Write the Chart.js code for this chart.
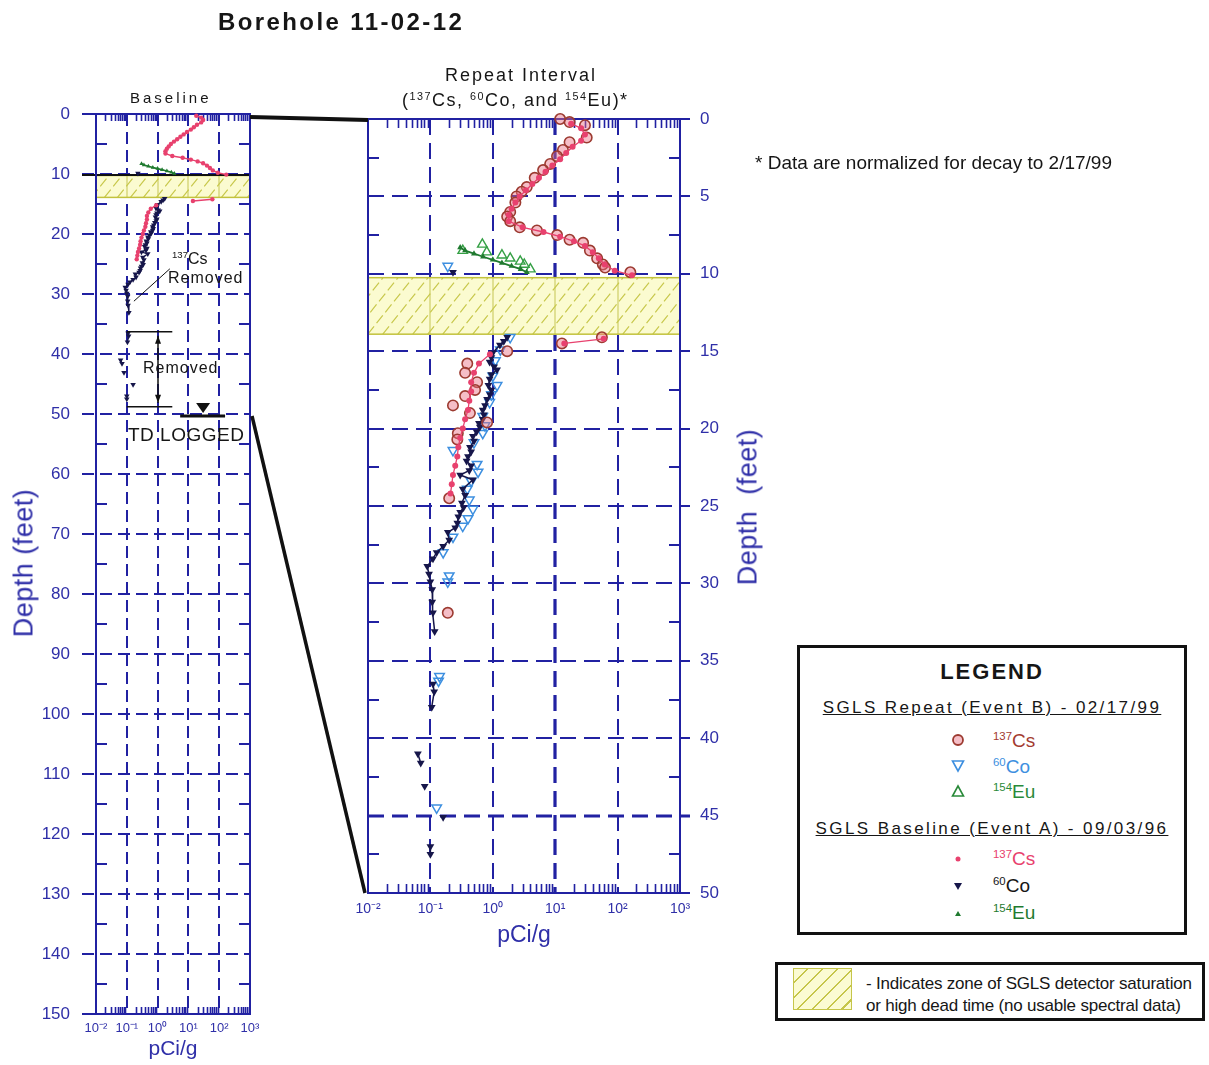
<!DOCTYPE html>
<html><head><meta charset="utf-8">
<script src="https://cdn.jsdelivr.net/npm/chart.js@4.4.1/dist/chart.umd.min.js"></script>
<style>
html,body{margin:0;padding:0;background:#fff;}
body{width:1209px;height:1065px;position:relative;overflow:hidden;font-family:"Liberation Sans",Arial,sans-serif;}
canvas{position:absolute;left:0;top:0;z-index:0;}
.t{position:absolute;white-space:nowrap;color:#161616;line-height:1;z-index:2;}
.rot{transform:translate(-50%,-50%) rotate(-90deg);}
sup{font-size:0.6em;vertical-align:0.6em;line-height:0;}
#legend{position:absolute;left:797px;top:645px;width:390px;height:290px;box-sizing:border-box;border:3px solid #111;z-index:2;background:#fff;}
#legend .t{position:absolute;}
#zone{position:absolute;left:775px;top:962px;width:430px;height:59px;box-sizing:border-box;border:3px solid #111;z-index:2;overflow:hidden;background:#fff;}
.swatch{position:absolute;box-sizing:border-box;border:1.5px solid #c6c64a;background-color:#fbfbd2;background-image:repeating-linear-gradient(135deg,transparent 0 9px,#c6c64a 9px 10.5px);}
.sym{position:absolute;}
</style></head><body>
<canvas id="baseline" width="1209" height="1065"></canvas>
<canvas id="repeat" width="1209" height="1065"></canvas>

<div class="t" style="left:218px;top:10px;font-size:24px;font-weight:bold;letter-spacing:2.4px;">Borehole 11-02-12</div>
<div class="t" style="left:130px;top:90px;font-size:15px;letter-spacing:3px;">Baseline</div>
<div class="t" style="left:445px;top:66px;font-size:18px;letter-spacing:2px;">Repeat Interval</div>
<div class="t" style="left:402px;top:91px;font-size:18px;letter-spacing:1.5px;">(<sup>137</sup>Cs, <sup>60</sup>Co, and <sup>154</sup>Eu)*</div>
<div class="t" style="left:755px;top:153px;font-size:19px;">* Data are normalized for decay to 2/17/99</div>
<div class="t rot" style="left:24px;top:563px;font-size:27px;color:#2f2fa8;letter-spacing:0.5px;">Depth (feet)</div>
<div class="t rot" style="left:748px;top:507px;font-size:27px;color:#2f2fa8;letter-spacing:0.5px;">Depth&nbsp; (feet)</div>

<div class="t" style="left:172px;top:251px;font-size:16px;"><sup>137</sup>Cs</div>
<div class="t" style="left:168px;top:270px;font-size:16px;letter-spacing:1px;">Removed</div>
<div class="t" style="left:143px;top:360px;font-size:16px;letter-spacing:1px;">Removed</div>
<div class="t" style="left:128px;top:425px;font-size:19px;letter-spacing:0.5px;">TD LOGGED</div>

<div id="legend">
  <div class="t" style="left:0;width:384px;text-align:center;top:13px;font-size:22px;font-weight:bold;letter-spacing:2px;">LEGEND</div>
  <div class="t" style="left:0;width:384px;text-align:center;top:51px;font-size:17px;letter-spacing:2.4px;text-decoration:underline;">SGLS Repeat (Event B) - 02/17/99</div>
  <svg class="sym" style="left:151px;top:85px" width="14" height="14"><circle cx="7" cy="7" r="5" fill="rgba(232,110,130,0.45)" stroke="#9c3a30" stroke-width="1.8"/></svg>
  <div class="t" style="left:193px;top:83px;font-size:19px;color:#a33a30;"><sup>137</sup>Cs</div>
  <svg class="sym" style="left:151px;top:111px" width="14" height="14"><polygon points="1.5,2 12.5,2 7,12" fill="none" stroke="#3d8fe0" stroke-width="1.6"/></svg>
  <div class="t" style="left:193px;top:109px;font-size:19px;color:#3d8fe0;"><sup>60</sup>Co</div>
  <svg class="sym" style="left:151px;top:136px" width="14" height="14"><polygon points="1.5,12 12.5,12 7,2" fill="none" stroke="#2a8a3a" stroke-width="1.6"/></svg>
  <div class="t" style="left:193px;top:134px;font-size:19px;color:#2a8a3a;"><sup>154</sup>Eu</div>
  <div class="t" style="left:0;width:384px;text-align:center;top:172px;font-size:17px;letter-spacing:2.4px;text-decoration:underline;">SGLS Baseline (Event A) - 09/03/96</div>
  <svg class="sym" style="left:152px;top:205px" width="12" height="12"><circle cx="6" cy="6" r="2.5" fill="#e8416e"/></svg>
  <div class="t" style="left:193px;top:201px;font-size:19px;color:#e8416e;"><sup>137</sup>Cs</div>
  <svg class="sym" style="left:152px;top:232px" width="12" height="12"><polygon points="2,3 10,3 6,10" fill="#16164a"/></svg>
  <div class="t" style="left:193px;top:228px;font-size:19px;color:#161616;"><sup>60</sup>Co</div>
  <svg class="sym" style="left:152px;top:259px" width="12" height="12"><polygon points="3,9 9,9 6,4" fill="#1f7a2f"/></svg>
  <div class="t" style="left:193px;top:255px;font-size:19px;color:#1f7a2f;"><sup>154</sup>Eu</div>
</div>

<div id="zone">
  <div class="swatch" style="left:15px;top:3px;width:59px;height:42px;"></div>
  <div class="t" style="left:88px;top:10px;font-size:17px;letter-spacing:-0.2px;">- Indicates zone of SGLS detector saturation</div>
  <div class="t" style="left:88px;top:32px;font-size:17px;letter-spacing:-0.2px;">or high dead time (no usable spectral data)</div>
</div>

<script>
const BLUE = '#2121a2';
const TXT_BLUE = '#2f2fa8';

// ---- axes ----
const xTickValues = [0.01, 0.1, 1, 10, 100, 1000];
const xTickLabels = ['10⁻²', '10⁻¹', '10⁰', '10¹', '10²', '10³'];
const baselineDepthRange = [0, 150];
const baselineDepthStep = 10;
const repeatDepthRange = [0, 50];
const repeatDepthStep = 5;

// ---- annotations (depths in feet) ----
const saturationZone = [10.25, 13.9];
const tdDepth = 50;
const csRemovedInterval = [36.3, 48.8];

// ---- SGLS Baseline (Event A) 09/03/96, pCi/g ----
const csBaseDepth = [0.3, 0.6, 1.0, 1.4, 1.8, 2.2, 2.6, 3.0, 3.4, 3.8, 4.2, 4.6, 5.0, 5.4, 5.8, 6.2, 6.6, 7.0, 7.3, 7.6, 7.9, 8.2, 8.6, 9.0, 9.4, 9.8, 10.1, 12.0, 14.2, 14.5, 14.9, 15.2, 15.8, 16.4, 17.0, 17.6, 18.2, 18.8, 19.4, 20.0, 20.6, 21.2, 21.8, 22.4, 23.0, 23.6, 24.2];
const csBase = [18, 26, 30, 26, 19, 15, 12, 9.0, 7.0, 5.5, 4.3, 3.4, 2.7, 2.3, 2.0, 1.8, 1.8, 3.0, 6.5, 12, 20, 30, 40, 50, 62, 90, 170, null, 60, 14, null, 0.9, 0.6, 0.5, 0.45, 0.45, 0.42, 0.40, 0.36, 0.33, 0.30, 0.28, 0.27, 0.25, 0.23, 0.22, 0.21];

const coBaseDepth = [9.9, 14.1, 14.35, 14.6, 15.1, 15.4, 15.7, 16.0, 16.2, 16.5, 16.8, 17.2, 17.5, 17.8, 18.1, 18.5, 18.8, 19.1, 19.4, 19.65, 19.9, 20.2, 20.5, 20.8, 21.2, 21.5, 21.8, 22.1, 22.4, 22.7, 23.0, 23.3, 23.9, 24.3, 24.8, 25.1, 25.4, 25.7, 26.1, 26.4, 26.7, 27.2, 27.6, 28.0, 28.4, 28.9, 29.4, 29.9, 30.4, 31.2, 31.9, 33.1, 36.5, 37.0, 38.0, 41.0, 41.6, 43.1, 45.1, 47.0, 47.5];
const coBase = [0.23, 1.7, 1.5, 1.3, 1.0, 0.95, 0.89, 1.05, 1.17, 0.95, 0.89, 0.85, 0.95, 0.9, 0.81, 0.75, 0.69, 0.72, 0.69, 0.6, 0.62, 0.55, 0.48, 0.5, 0.43, 0.45, 0.40, 0.38, 0.45, 0.42, 0.30, 0.48, 0.33, 0.36, 0.32, 0.34, 0.30, 0.28, 0.27, 0.25, 0.19, 0.20, 0.16, 0.126, 0.11, 0.089, 0.095, 0.10, 0.107, 0.107, 0.11, 0.117, 0.11, 0.115, 0.105, 0.063, 0.07, 0.081, 0.16, 0.10, 0.10];

const euBaseDepth = [8.3, 8.5, 8.7, 8.9, 9.1, 9.3, 9.5, 9.7, 9.9];
const euBase = [0.30, 0.36, 0.5, 0.7, 1.0, 1.4, 2.0, 2.8, 3.5];

// ---- SGLS Repeat (Event B) 02/17/99, pCi/g ----
const csRepDepth = [0.0, 0.2, 0.4, 1.2, 1.5, 2.0, 2.4, 2.9, 3.3, 3.8, 4.4, 4.7, 5.0, 5.4, 6.0, 6.3, 6.6, 7.0, 7.2, 7.5, 7.8, 8.0, 8.5, 9.0, 9.4, 9.6, 9.9, 14.1, 14.5, 15.0, 15.8, 16.4, 17.0, 17.5, 17.9, 18.5, 19.0, 19.6, 20.3, 20.7, 24.5, 31.9];
const csRep = [12, 17, 30, 32, 17, 13.3, 10.7, 8.3, 6.4, 4.7, 3.5, 2.9, 2.4, 2.3, 1.9, 1.7, 1.9, 2.7, 5.1, 10.7, 17, 28, 36, 47, 58, 63, 160, 56, 12.8, 1.7, 0.39, 0.36, 0.56, 0.52, 0.36, 0.23, 0.43, 0.81, 0.275, 0.27, 0.20, 0.19];

const coRepDepth = [9.5, 14.1, 14.9, 15.6, 16.6, 17.2, 17.8, 18.3, 19.2, 19.8, 20.3, 20.9, 21.4, 22.3, 22.8, 23.4, 23.9, 24.6, 25.2, 25.8, 26.3, 27.0, 28.0, 29.5, 29.9, 36.0, 36.3, 44.5];
const coRep = [0.19, 1.9, 1.32, 1.1, 1.0, 1.17, 0.95, 0.89, 0.69, 0.75, 0.69, 0.5, 0.23, 0.56, 0.58, 0.45, 0.39, 0.42, 0.48, 0.40, 0.33, 0.23, 0.16, 0.20, 0.19, 0.14, 0.135, 0.126];

const euRepDepth = [8.1, 8.5, 8.6, 8.8, 9.0, 9.2, 9.4, 9.7];
const euRep = [0.68, 0.33, 0.8, 1.4, 1.9, 2.75, 3.2, 4.0];

// ---------------------------------------------------------------
Chart.defaults.font.family = '"Liberation Sans", Arial, sans-serif';

const pts = (d, v) => d.map((dep, i) => ({x: v[i], y: dep}));
const gapColor = (color, maxGap) => ctx =>
  (Math.abs(ctx.p1.parsed.y - ctx.p0.parsed.y) > maxGap) ? 'rgba(0,0,0,0)' : color;

function axisOptions(c) {
  return {
    responsive: false, animation: false, devicePixelRatio: 1, events: [],
    layout: {padding: c.padding},
    plugins: {legend: {display: false}, tooltip: {enabled: false}, title: {display: false}},
    scales: {
      x: {
        type: 'logarithmic', position: 'bottom',
        min: xTickValues[0], max: xTickValues[xTickValues.length - 1],
        afterBuildTicks: s => { s.ticks = xTickValues.map(v => ({value: v})); },
        afterFit: s => { s.height = c.xHeight; },
        grid: {display: false, drawTicks: false}, border: {display: false},
        ticks: {autoSkip: false, maxRotation: 0, minRotation: 0, padding: c.xTickPad,
                color: TXT_BLUE, font: {size: c.xTickSize}, callback: (v, i) => xTickLabels[i]},
        title: {display: true, text: 'pCi/g', color: TXT_BLUE, font: {size: c.xTitleSize},
                padding: {top: 0, bottom: c.xTitlePad}}
      },
      y: {
        type: 'linear', position: c.yPos, reverse: true, min: c.yRange[0], max: c.yRange[1],
        afterFit: s => { s.width = c.yWidth; },
        grid: {display: false, drawTicks: false}, border: {display: false},
        ticks: {stepSize: c.yStep, autoSkip: false, padding: c.yTickPad, color: TXT_BLUE,
                font: {size: c.yTickSize}}
      }
    }
  };
}

function line(ctx, x0, y0, x1, y1) { ctx.beginPath(); ctx.moveTo(x0, y0); ctx.lineTo(x1, y1); ctx.stroke(); }

function drawFrame(chart, s) {
  const {ctx, chartArea: a} = chart;
  const x = chart.scales.x, y = chart.scales.y;
  ctx.save();
  ctx.strokeStyle = BLUE; ctx.lineCap = 'butt';
  ctx.setLineDash(s.dash);
  xTickValues.slice(1, -1).forEach(v => {
    const px = Math.round(x.getPixelForValue(v));
    ctx.lineWidth = (v === s.thickDecade) ? 3.2 : 2;
    line(ctx, px, a.top, px, a.bottom);
  });
  y.ticks.forEach(t => {
    const py = Math.round(y.getPixelForValue(t.value));
    const inner = t.value > y.min && t.value < y.max;
    ctx.lineWidth = (t.value === s.thickDepth) ? 3.2 : 2;
    const x0 = a.left - s.extL, x1 = a.right + s.extR;
    if (inner) { ctx.setLineDash(s.dash); line(ctx, x0, py, x1, py); }
    else {
      ctx.setLineDash([]);
      if (s.extL) line(ctx, x0, py, a.left, py);
      if (s.extR) line(ctx, a.right, py, x1, py);
    }
  });
  ctx.setLineDash([]); ctx.lineWidth = 2;
  const step = Math.abs(s.step);
  const n = Math.round((y.max - y.min) / step);
  for (let i = 0; i < n && i < 100; i++) {
    const py = Math.round(y.getPixelForValue(y.min + step * (i + 0.5)));
    line(ctx, a.left, py, a.left + s.minorLen, py);
    line(ctx, a.right - s.minorLen, py, a.right, py);
  }
  ctx.lineWidth = 1.6;
  for (let i = 0; i < xTickValues.length - 1; i++) {
    for (let k = 2; k <= 9; k++) {
      const px = Math.round(x.getPixelForValue(xTickValues[i] * k)) + 0.5;
      line(ctx, px, a.top, px, a.top + s.logLen);
      line(ctx, px, a.bottom - s.logLen, px, a.bottom);
    }
  }
  const zy0 = y.getPixelForValue(saturationZone[0]), zy1 = y.getPixelForValue(saturationZone[1]);
  const zw = a.right - a.left, zh = zy1 - zy0;
  ctx.fillStyle = '#fbfbd0';
  ctx.fillRect(a.left, zy0, zw, zh);
  ctx.save();
  ctx.beginPath(); ctx.rect(a.left, zy0, zw, zh); ctx.clip();
  ctx.strokeStyle = 'rgba(200,200,90,0.7)'; ctx.lineWidth = 1.5;
  xTickValues.slice(1, -1).forEach(v => { const px = Math.round(x.getPixelForValue(v)); line(ctx, px, zy0, px, zy1); });
  ctx.strokeStyle = '#c8c84c'; ctx.lineWidth = 1.2; ctx.setLineDash([10, 4]);
  const dx = zh * 0.8;
  const nh = Math.ceil((zw + 2 * dx) / s.hatchGap);
  for (let i = 0; i <= nh && i < 200; i++) { const xx = a.left - dx + i * s.hatchGap; line(ctx, xx, zy1, xx + dx, zy0); }
  ctx.restore();
  ctx.setLineDash([]);
  ctx.strokeStyle = '#c2c23c'; ctx.lineWidth = 1.5;
  ctx.strokeRect(a.left, zy0, zw, zh);
  if (s.blackLineDepth !== undefined) {
    ctx.strokeStyle = '#111'; ctx.lineWidth = 2;
    const py = y.getPixelForValue(s.blackLineDepth) + 1;
    line(ctx, a.left - 14, py, a.right, py);
  }
  ctx.strokeStyle = BLUE; ctx.lineWidth = 2;
  ctx.strokeRect(a.left, a.top, a.right - a.left, a.bottom - a.top);
  ctx.restore();
}

function arrowHead(ctx, px, py, dir) {
  ctx.beginPath(); ctx.moveTo(px, py); ctx.lineTo(px - 3, py - dir * 8); ctx.lineTo(px + 3, py - dir * 8); ctx.closePath(); ctx.fill();
}

const baselineNotes = {
  id: 'baselineNotes',
  beforeDatasetsDraw(chart) {
    drawFrame(chart, {dash: [12, 6], extL: 14, extR: 0, minorLen: 11, logLen: 7, hatchGap: 13, blackLineDepth: 10, step: baselineDepthStep});
  },
  afterDatasetsDraw(chart) {
    const {ctx} = chart; const x = chart.scales.x, y = chart.scales.y;
    ctx.save(); ctx.strokeStyle = '#111'; ctx.fillStyle = '#111';
    ctx.lineWidth = 1.5;
    const bx0 = x.getPixelForValue(0.1), bx1 = x.getPixelForValue(3), bxm = Math.round(x.getPixelForValue(1));
    const by0 = y.getPixelForValue(csRemovedInterval[0]), by1 = y.getPixelForValue(csRemovedInterval[1]);
    line(ctx, bx0, by0, bx1, by0); line(ctx, bx0, by1, bx1, by1);
    line(ctx, bxm, by0 + 4, bxm, by1 - 4);
    arrowHead(ctx, bxm, by0 + 4, -1); arrowHead(ctx, bxm, by1 - 4, 1);
    ctx.lineWidth = 1;
    line(ctx, x.getPixelForValue(2.5), y.getPixelForValue(25.8), x.getPixelForValue(0.17), y.getPixelForValue(31.2));
    const ty = y.getPixelForValue(tdDepth) + 2;
    ctx.lineWidth = 3;
    line(ctx, x.getPixelForValue(5.4), ty, x.getPixelForValue(155), ty);
    const tx = x.getPixelForValue(30);
    ctx.beginPath(); ctx.moveTo(tx - 7, ty - 13); ctx.lineTo(tx + 7, ty - 13); ctx.lineTo(tx, ty - 3); ctx.closePath(); ctx.fill();
    ctx.restore();
  }
};

const baselineChart = new Chart(document.getElementById('baseline'), {
  type: 'scatter',
  data: {datasets: [
    {label: 'Cs-137 baseline', data: pts(csBaseDepth, csBase), showLine: true, spanGaps: false,
     borderColor: '#e8416e', borderWidth: 1.4, pointRadius: 2.2, pointBackgroundColor: '#e8416e', pointBorderWidth: 0, clip: 6},
    {label: 'Co-60 baseline', data: pts(coBaseDepth, coBase), showLine: true,
     borderColor: '#16164a', borderWidth: 1.3, segment: {borderColor: gapColor('#16164a', 1.3)},
     pointStyle: 'triangle', pointRotation: 180, pointRadius: 3.2, pointBackgroundColor: '#16164a', pointBorderWidth: 0, clip: 6},
    {label: 'Eu-154 baseline', data: pts(euBaseDepth, euBase), showLine: true,
     borderColor: '#1f7a2f', borderWidth: 1.6, pointStyle: 'triangle', pointRadius: 2.5,
     pointBackgroundColor: '#1f7a2f', pointBorderWidth: 0, clip: 6}
  ]},
  options: axisOptions({padding: {left: 0, top: 114, right: 959, bottom: 0}, xHeight: 51, yWidth: 96,
    yRange: baselineDepthRange, yStep: baselineDepthStep, yPos: 'left', yTickPad: 26, yTickSize: 17,
    xTickPad: 7, xTickSize: 13, xTitleSize: 21, xTitlePad: 3}),
  plugins: [baselineNotes]
});

const repeatNotes = {
  id: 'repeatNotes',
  beforeDatasetsDraw(chart) {
    drawFrame(chart, {dash: [16, 8], extL: 0, extR: 10, minorLen: 11, logLen: 9, hatchGap: 15, thickDecade: 10, thickDepth: 45, step: repeatDepthStep});
  },
  afterDraw(chart) {
    const {ctx} = chart; const L = baselineChart;
    const ly = L.scales.y, ry = chart.scales.y;
    ctx.save(); ctx.strokeStyle = '#111';
    ctx.lineWidth = 4;
    line(ctx, L.chartArea.right, ly.getPixelForValue(repeatDepthRange[0]) + 3, chart.chartArea.left, ry.getPixelForValue(repeatDepthRange[0]) + 1);
    ctx.lineWidth = 3.5;
    line(ctx, L.chartArea.right + 2, ly.getPixelForValue(repeatDepthRange[1]) + 2, chart.chartArea.left - 3, ry.getPixelForValue(repeatDepthRange[1]));
    ctx.restore();
  }
};

new Chart(document.getElementById('repeat'), {
  type: 'scatter',
  data: {datasets: [
    {label: 'Cs-137 baseline', data: pts(csBaseDepth, csBase), showLine: true, spanGaps: false,
     borderColor: '#e8416e', borderWidth: 1.3, pointRadius: 3, pointBackgroundColor: '#e8416e', pointBorderWidth: 0, clip: 8},
    {label: 'Cs-137 repeat', data: pts(csRepDepth, csRep), showLine: false,
     pointRadius: 5.2, pointBorderColor: '#9c3a30', pointBorderWidth: 1.6, pointBackgroundColor: 'rgba(232,110,130,0.45)', clip: 8},
    {label: 'Co-60 baseline', data: pts(coBaseDepth, coBase), showLine: true,
     borderColor: '#16164a', borderWidth: 1.5, segment: {borderColor: gapColor('#16164a', 1.3)},
     pointStyle: 'triangle', pointRotation: 180, pointRadius: 4.5, pointBackgroundColor: '#16164a', pointBorderWidth: 0, clip: 8},
    {label: 'Co-60 repeat', data: pts(coRepDepth, coRep), showLine: false,
     pointStyle: 'triangle', pointRotation: 180, pointRadius: 5.5, pointBorderColor: '#3d8fe0', pointBorderWidth: 1.5,
     pointBackgroundColor: 'rgba(255,255,255,0)', clip: 8},
    {label: 'Eu-154 baseline', data: pts(euBaseDepth, euBase), showLine: true,
     borderColor: '#1f7a2f', borderWidth: 1.8, pointStyle: 'triangle', pointRadius: 3.5,
     pointBackgroundColor: '#1f7a2f', pointBorderWidth: 0, clip: 8},
    {label: 'Eu-154 repeat', data: pts(euRepDepth, euRep), showLine: false,
     pointStyle: 'triangle', pointRadius: 5.5, pointBorderColor: '#35a045', pointBorderWidth: 1.4,
     pointBackgroundColor: 'rgba(255,255,255,0)', clip: 8}
  ]},
  options: axisOptions({padding: {left: 368, top: 119, right: 469, bottom: 110}, xHeight: 62, yWidth: 60,
    yRange: repeatDepthRange, yStep: repeatDepthStep, yPos: 'right', yTickPad: 20, yTickSize: 17,
    xTickPad: 8, xTickSize: 14, xTitleSize: 23, xTitlePad: 6}),
  plugins: [repeatNotes]
});
</script>
</body></html>
